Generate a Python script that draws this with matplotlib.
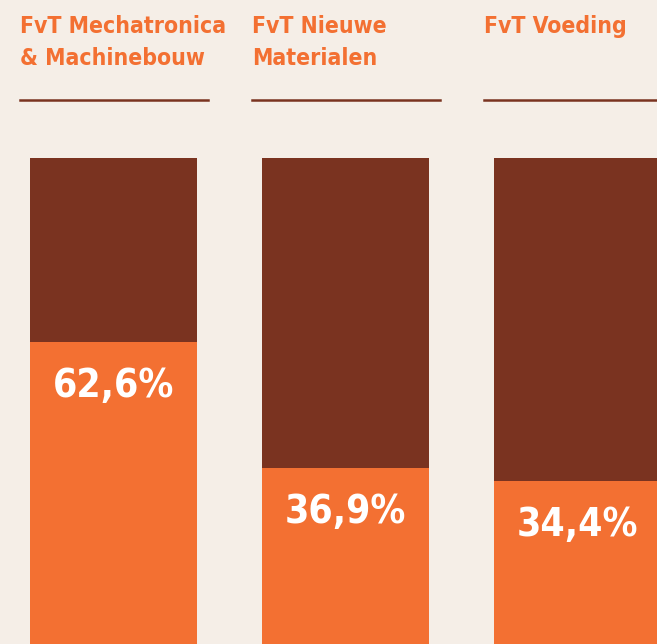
import matplotlib
matplotlib.use("Agg")
import matplotlib.pyplot as plt
from matplotlib.lines import Line2D

categories = ["FvT Mechatronica\n& Machinebouw", "FvT Nieuwe\nMaterialen", "FvT Voeding"]
values = [62.6, 36.9, 34.4]
labels = ["62,6%", "36,9%", "34,4%"]

BG = "#f5eee7"
ORANGE = "#f37032"
BROWN = "#7a3320"

W, H = 657, 644
fig = plt.figure(figsize=(W / 100, H / 100), dpi=100, facecolor=BG)
ax = fig.add_axes([0, 0, 1, 1])
ax.set_facecolor(BG)

x = list(range(len(values)))
bw = 167 / 232
ax.bar(x, [100] * len(values), width=bw, color=BROWN, linewidth=0)
ax.bar(x, values, width=bw, color=ORANGE, linewidth=0)

ax.set_xlim(-113.5 / 232, (657 - 113.5) / 232)
ax.set_ylim((650 - 644) / 4.92, 650 / 4.92)
ax.axis("off")

for xi, v, lab in zip(x, values, labels):
    ax.annotate(lab, (xi, v), xytext=(0, -44), textcoords="offset pixels",
                ha="center", va="center", color="white", fontsize=28,
                fontweight="bold", family="DejaVu Sans", fontstretch="condensed")

# headings and rules
for i, cat in enumerate(categories):
    left_px = 20 + 232 * i
    fig.text(left_px / W, 1 - 15 / H, cat, ha="left", va="top", color=ORANGE,
             fontsize=16.5, fontweight="bold", family="DejaVu Sans",
             fontstretch="condensed", linespacing=1.5)
    fig.add_artist(Line2D([left_px / W, min(left_px + 188, W) / W],
                          [1 - 100 / H, 1 - 100 / H], color=BROWN, lw=1.8,
                          transform=fig.transFigure))

fig.savefig("out.png", dpi=100, facecolor=BG)
